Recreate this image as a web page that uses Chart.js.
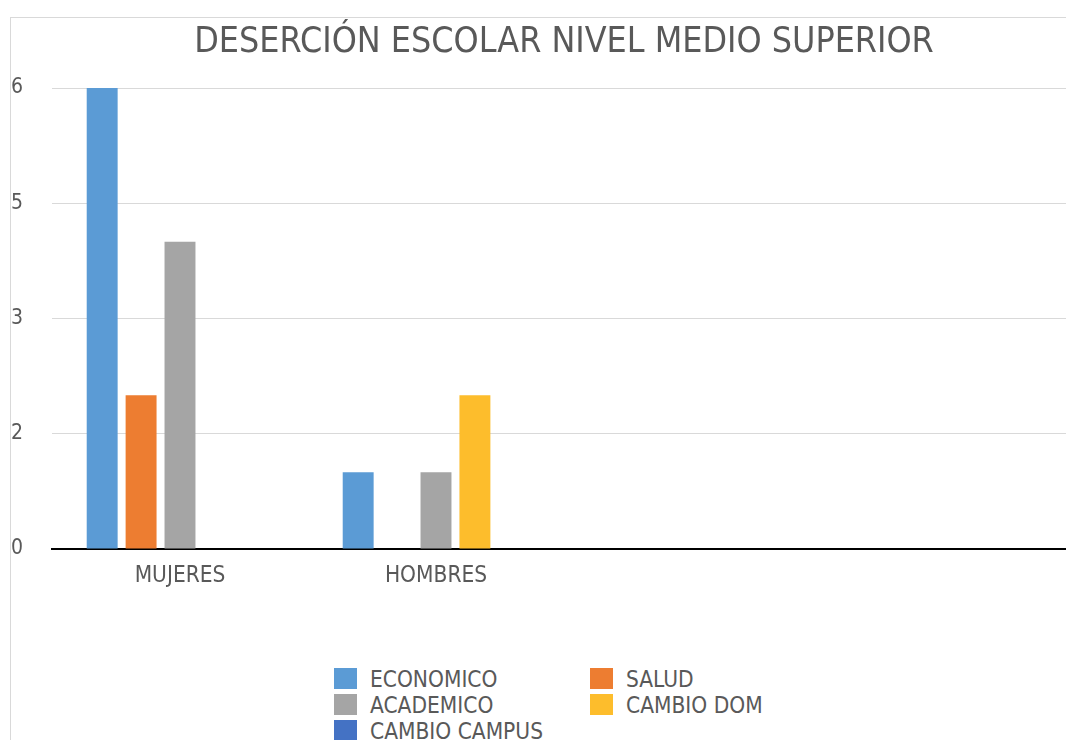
<!DOCTYPE html>
<html>
<head>
<meta charset="utf-8">
<script src="https://cdn.jsdelivr.net/npm/chart.js@4/dist/chart.umd.min.js"></script>
<style>
  html, body { margin: 0; padding: 0; background: #fff; width: 1066px; height: 740px; overflow: hidden; }
  #frame { position: absolute; left: 10px; top: 17px; width: 1200px; height: 800px;
           border-left: 1px solid #d9d9d9; border-top: 1px solid #d9d9d9; }
  #wrap { position: absolute; left: 0; top: 0; }
  #legend { position: absolute; left: 334px; top: 668px; width: 520px;
            font-family: "DejaVu Sans Condensed", "DejaVu Sans", sans-serif; font-size: 22.5px; color: #595959; }
  .item { position: absolute; height: 21px; line-height: 21px; white-space: nowrap; }
  .sw { position: absolute; left: 0; top: 0; width: 23px; height: 21px; }
  .lt { position: absolute; left: 36px; top: 1px; }
</style>
</head>
<body>
<div id="frame"></div>
<div id="wrap"><canvas id="c" width="1090" height="600"></canvas></div>
<div id="legend"></div>
<script>
const titleText = 'DESERCIÓN ESCOLAR NIVEL MEDIO SUPERIOR';
const categories = ['MUJERES', 'HOMBRES', '', ''];
const seriesNames = ['ECONOMICO', 'SALUD', 'ACADEMICO', 'CAMBIO DOM', 'CAMBIO CAMPUS'];
const seriesColors = ['#5B9BD5', '#ED7D31', '#A5A5A5', '#FDBD2C', '#4472C4'];
const economico = [6, 1, null, null];
const salud = [2, 0, null, null];
const academico = [4, 1, null, null];
const cambioDom = [0, 2, null, null];
const cambioCampus = [0, 0, null, null];
const yTickLabels = ['0', '2', '3', '5', '6'];

const seriesValues = [economico, salud, academico, cambioDom, cambioCampus];
const FONT = '"DejaVu Sans Condensed", "DejaVu Sans", sans-serif';
const TXT = '#595959';

const datasets = seriesNames.map((n, i) => ({
  label: n,
  data: seriesValues[i],
  backgroundColor: seriesColors[i],
  borderWidth: 0,
  categoryPercentage: 0.76,
  barPercentage: 0.795
}));

new Chart(document.getElementById('c'), {
  type: 'bar',
  data: { labels: categories, datasets },
  options: {
    responsive: false,
    animation: false,
    layout: { padding: { left: 11, right: 14, top: 0, bottom: 0 } },
    plugins: {
      legend: { display: false },
      tooltip: { enabled: false },
      title: {
        display: true,
        text: titleText,
        fullSize: false,
        color: TXT,
        font: { family: FONT, size: 35.5, weight: 'normal', lineHeight: 1.2 },
        padding: { top: 21, bottom: 24.4 }
      }
    },
    scales: {
      x: {
        grid: { display: false, drawTicks: false },
        border: { display: true, color: '#000', width: 2 },
        ticks: { color: TXT, font: { family: FONT, size: 22.5 }, padding: 14, maxRotation: 0, autoSkip: false },
        afterFit: s => { s.height = 51; }
      },
      y: {
        min: 0, max: 6,
        grid: {
          drawTicks: false,
          color: ctx => (ctx.tick && ctx.tick.value === 0) ? 'rgba(0,0,0,0)' : '#d9d9d9',
          lineWidth: 1
        },
        border: { display: false },
        ticks: {
          stepSize: 1.5,
          color: TXT,
          crossAlign: 'far',
          font: { family: FONT, size: 21 },
          callback: (v, i) => yTickLabels[i]
        },
        afterFit: s => { s.width = 41; }
      }
    }
  }
});

const leg = document.getElementById('legend');
seriesNames.forEach((n, i) => {
  const d = document.createElement('div');
  d.className = 'item';
  d.style.left = (i % 2 === 0 ? 0 : 256) + 'px';
  d.style.top = (Math.floor(i / 2) * 26) + 'px';
  d.innerHTML = '<span class="sw" style="background:' + seriesColors[i] + '"></span><span class="lt"></span>';
  d.querySelector('.lt').textContent = n;
  leg.appendChild(d);
});
</script>
</body>
</html>
